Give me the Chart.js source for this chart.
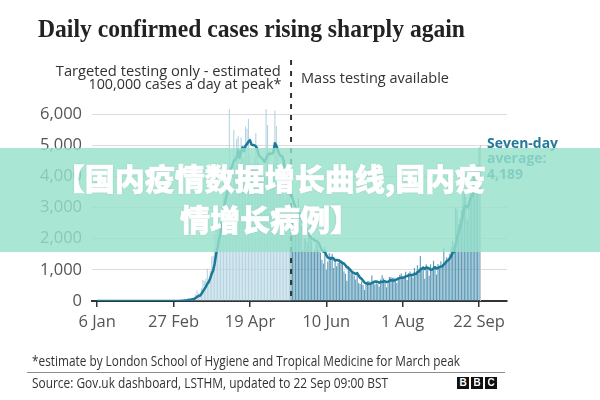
<!DOCTYPE html>
<html><head><meta charset="utf-8">
<script src="https://cdn.jsdelivr.net/npm/chart.js@4/dist/chart.umd.min.js"></script>
<style>
html,body{margin:0;padding:0;background:#fff;}
#wrap{position:relative;width:600px;height:400px;overflow:hidden;background:#fff;}
canvas{position:absolute;left:0;top:0;}
.t{position:absolute;white-space:nowrap;font-family:"Open Sans","Noto Sans",sans-serif;color:#333;font-size:14.5px;line-height:18px;height:18px;}
#title{left:38px;top:14px;font-family:"Liberation Serif",serif;font-weight:700;font-size:25px;line-height:30px;height:30px;color:#222;}
.sd{font-weight:700;font-size:14px;color:#247a9a;left:487px;}
#sep{position:absolute;left:27px;top:372px;width:478px;height:1px;background:#8c8c8c;}
.bbc{position:absolute;top:377px;width:12px;height:12px;background:#111;color:#fff;font:700 10px/12px "Liberation Sans",Arial,sans-serif;text-align:center;}
#banner{position:absolute;left:0;top:148px;width:600px;height:104px;background:rgba(151,224,202,0.82);}
#btext{position:absolute;left:0;width:540px;top:157px;text-align:center;font-family:"Noto Sans CJK SC",sans-serif;font-weight:900;font-size:30px;line-height:41px;color:#fff;-webkit-text-stroke:0.7px #fff;text-shadow:0 0 2px rgba(0,0,0,0.18);}
</style></head>
<body>
<div id="wrap">
<canvas id="c" width="600" height="400"></canvas>
<div class="t" id="title">Daily confirmed cases rising sharply again</div>
<div class="t" id="a1" style="right:319px;top:61.7px;">Targeted testing only - estimated</div>
<div class="t" id="a2" style="right:319px;top:75.4px;">100,000 cases a day at peak*</div>
<div class="t" id="a3" style="left:301px;top:68.7px;">Mass testing available</div>
<div class="t sd" id="s1" style="top:134px;">Seven-day</div>
<div class="t sd" id="s2" style="top:149px;">average:</div>
<div class="t sd" id="s3" style="top:165px;">4,189</div>
<div class="t" id="f1" style="left:32px;top:351.6px;font-size:14px;">*estimate by London School of Hygiene and Tropical Medicine for March peak</div>
<div id="sep"></div>
<div class="t" id="f2" style="left:32px;top:373.5px;font-size:14px;">Source: Gov.uk dashboard, LSTHM, updated to 22 Sep 09:00 BST</div>
<div class="bbc" style="left:457px;">B</div>
<div class="bbc" style="left:471px;">B</div>
<div class="bbc" style="left:485px;">C</div>
<div id="banner"></div>
<div id="btext">【国内疫情数据增长曲线,国内疫<br>情增长病例】</div>
</div>
<script>
// Daily confirmed cases, day 0 = 6 Jan 2020 ... day 260 = 22 Sep 2020
const dailyCases = [
0,0,0,0,0,0,0,0,0,0,
0,0,0,0,0,0,0,0,0,0,
0,0,0,0,0,2,0,0,0,0,
0,1,0,0,1,4,0,0,0,0,
0,0,0,0,0,0,0,0,4,0,
0,0,2,5,3,12,4,11,34,30,
48,43,67,46,50,87,134,208,342,251,
152,407,676,643,714,1035,665,967,1427,1452,
2129,2885,2546,2433,2619,3009,4324,4244,4450,3735,
6150,3802,3634,5491,4344,5195,5288,4342,5252,4603,
4617,5599,5525,5850,4676,4301,4451,4583,5386,4913,
4463,4309,3996,4076,4076,6150,5650,4806,4339,3985,
4406,6111,5614,4649,3896,3923,3877,3403,3242,3446,
3560,3451,3142,2684,2412,2472,2615,3287,2959,2405,
1625,2004,2013,1887,2095,2445,1936,1570,1653,1871,
1805,1650,1557,1326,1205,1741,1003,1266,1541,1425,
1514,1056,1279,1115,1218,1346,1295,1221,958,874,
653,1118,1006,890,901,815,689,829,576,544,
624,516,352,581,630,642,512,820,650,530,
598,538,463,687,827,726,580,445,560,769,
767,743,747,685,581,763,846,880,771,744,
938,670,892,950,871,758,1062,816,1148,1009,
1441,1012,1040,713,1182,1089,812,1182,1033,1288,
1041,853,1184,1048,1276,1108,1715,1276,1406,1295,
1508,1735,1940,1813,2988,2948,2460,2659,2919,3539,
3497,3330,2621,3105,3991,3395,4322,4422,3899,4368,
4926];
// Seven-day average, same days
const sevenDayAvg = [
0,0,0,0,0,0,0,0,0,0,
0,0,0,0,0,0,0,0,0,0,
0,0,0,0,0,0,0,0,0,0,
0,0,0,0,0,1,1,1,1,1,
1,1,0,0,0,0,0,0,1,1,
1,1,1,1,2,3,4,5,10,14,
20,26,34,40,45,53,68,91,133,160,
175,226,310,383,455,554,613,730,875,986,
1198,1509,1724,1977,2213,2439,2849,3151,3375,3545,
4076,4245,4334,4501,4515,4622,4843,4585,4792,4931,
4806,4985,5032,5113,5160,5024,5003,4998,4967,4880,
4682,4629,4586,4532,4460,4569,4674,4723,4728,4726,
4773,5064,4987,4844,4714,4655,4639,4496,4086,3777,
3621,3557,3446,3275,3134,3024,2905,2866,2796,2691,
2539,2481,2415,2311,2141,2068,2001,1993,1943,1922,
1911,1847,1720,1633,1581,1594,1470,1393,1377,1358,
1385,1364,1298,1314,1307,1279,1260,1219,1205,1147,
1081,1066,1018,960,914,894,867,893,815,749,
711,656,590,575,546,556,551,579,598,624,
626,613,587,612,613,624,631,609,613,656,
668,656,659,674,693,722,733,749,753,753,
789,802,820,835,834,832,877,860,928,945,
1015,1035,1075,1026,1078,1069,1041,1004,1007,1043,
1090,1043,1056,1090,1103,1114,1175,1209,1288,1303,
1369,1435,1554,1568,1812,2032,2199,2363,2532,2761,
3001,3050,3004,3096,3286,3354,3466,3598,3679,3929,
4189];
const tickDays = [0, 52, 104, 156, 208, 260];
const tickLabels = ["6 Jan", "27 Feb", "19 Apr", "10 Jun", "1 Aug", "22 Sep"];
const yTicks = [0, 1000, 2000, 3000, 4000, 5000, 6000];
const yTickLabels = ["0", "1,000", "2,000", "3,000", "4,000", "5,000", "6,000"];
const massTestingDay = 132;

const PRE = '#b4d4e1', POST = '#5d9bb7', LINE = '#1b7899';
const dayIndex = dailyCases.map((_, i) => i);

const annot = {
  id: 'annot',
  afterDatasetsDraw(chart) {
    const c = chart.ctx, xs = chart.scales.x, a = chart.chartArea;
    c.save();
    const lx = Math.round(xs.getPixelForValue(dayIndex[dayIndex.length - 1])) + 1.5;
    c.strokeStyle = '#c8c8c8'; c.lineWidth = 1;
    c.beginPath(); c.moveTo(lx, 145); c.lineTo(lx, a.bottom); c.stroke();
    const dx = xs.getPixelForValue(massTestingDay);
    c.strokeStyle = '#333'; c.lineWidth = 2; c.setLineDash([5, 6]);
    c.beginPath(); c.moveTo(dx, 60); c.lineTo(dx, a.bottom); c.stroke();
    c.restore();
  }
};

new Chart(document.getElementById('c').getContext('2d'), {
  type: 'bar',
  data: {
    datasets: [
      { type: 'line', data: dayIndex.map(i => ({x: i, y: sevenDayAvg[i]})), borderColor: LINE, borderWidth: 2.5,
        pointRadius: 0, fill: false, tension: 0, order: 0, borderJoinStyle: 'round' },
      { type: 'bar', data: dayIndex.map(i => ({x: i, y: dailyCases[i]})),
        backgroundColor: dayIndex.map(i => i < massTestingDay ? PRE : POST),
        barPercentage: 0.75, categoryPercentage: 1, order: 1 }
    ]
  },
  options: {
    responsive: false, animation: false, events: [],
    layout: { padding: { top: 104.65, right: 93, left: 0, bottom: 0 } },
    plugins: { legend: { display: false }, tooltip: { enabled: false } },
    scales: {
      x: {
        type: 'linear', min: -3.5, max: 279, offset: false,
        afterBuildTicks: s => { s.ticks = tickDays.map(v => ({ value: v })); },
        afterFit: s => { s.height = 99; },
        ticks: { callback: (v, i) => tickLabels[i], font: { family: 'Open Sans', size: 16.5 }, color: '#555',
                 padding: 5, maxRotation: 0, autoSkip: false },
        grid: { offset: false, drawOnChartArea: false, drawTicks: true, tickLength: 6, color: '#333', lineWidth: 1.5 },
        border: { display: true, color: '#333', width: 2 }
      },
      y: {
        min: 0, max: 6300,
        afterBuildTicks: s => { s.ticks = yTicks.map(v => ({ value: v })); },
        afterFit: s => { s.width = 92; },
        ticks: { callback: (v, i) => yTickLabels[i], font: { family: 'Open Sans', size: 16.5 }, color: '#555', padding: 10 },
        grid: { color: '#dcdcdc', drawTicks: false, lineWidth: 1 },
        border: { display: false }
      }
    }
  },
  plugins: [annot]
});

function fitX(id, w, origin) {
  const el = document.getElementById(id);
  const r = el.getBoundingClientRect().width;
  el.style.transformOrigin = origin || 'left center';
  el.style.transform = 'scaleX(' + (w / r) + ')';
  return w / r;
}
fitX('title', 427);
fitX('a1', 225, 'right center');
fitX('a2', 193, 'right center');
fitX('a3', 148);
const k = fitX('s1', 71);
['s2', 's3'].forEach(id => { const el = document.getElementById(id); el.style.transformOrigin = 'left center'; el.style.transform = 'scaleX(' + k + ')'; });
fitX('f1', 428);
fitX('f2', 356);
</script>
</body></html>
